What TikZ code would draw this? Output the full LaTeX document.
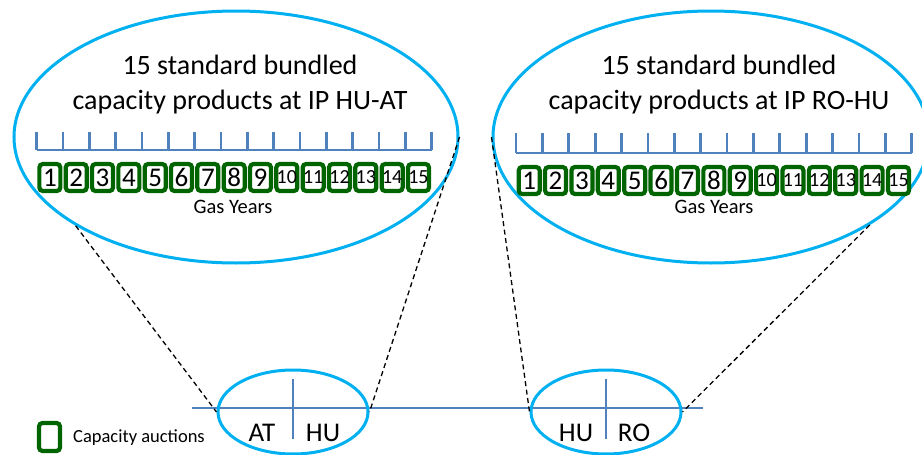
\documentclass[tikz,border=0pt]{standalone}
\usepackage{fontspec}
\setmainfont{Carlito}
\usetikzlibrary{shapes.geometric}
\definecolor{ellblue}{HTML}{00B0F0}
\definecolor{tlblue}{HTML}{4F81BD}
\definecolor{boxgreen}{RGB}{0,100,0}
\begin{document}
\begin{tikzpicture}[x=1pt,y=-1pt,
  bigell/.style={ellipse, draw=ellblue, line width=3pt, inner sep=0pt, minimum width=444pt, minimum height=252pt},
  smallell/.style={ellipse, draw=ellblue, line width=3pt, inner sep=0pt, minimum width=150pt, minimum height=84pt},
  tl/.style={draw=tlblue, line width=2.8pt},
  prod/.style={draw=boxgreen, line width=4.2pt, rounded corners=3.5pt, minimum width=21pt, minimum height=27pt, inner sep=0pt, fill=white},
  conn/.style={black, line width=1.3pt, dash pattern=on 5pt off 3.5pt},
  title/.style={font=\fontsize{28}{35}\selectfont, align=center, inner sep=0pt},
  small/.style={font=\fontsize{20.5}{22}\selectfont, inner sep=0pt},
  country/.style={font=\fontsize{27}{30}\selectfont, inner sep=0pt}
]
\useasboundingbox (0,0) rectangle (922,455);

% big ellipses
\node[bigell] (bigL) at (236,137) {};
\node[bigell, minimum width=436pt] (bigR) at (711,137) {};

% titles
\node[title] (tL) at (240,85) {15 standard bundled\\capacity products at IP HU-AT};
\node[title] (tR) at (719,85) {15 standard bundled\\capacity products at IP RO-HU};

% timelines
\coordinate (la) at (36.7,150);
\coordinate (lb) at (431.7,150);
\draw[tl] (la) -- (lb);
\foreach \i in {0,...,15} {
  \draw[tl] ({36.7+26.33*\i},132) -- ({36.7+26.33*\i},150);
}
\coordinate (ra) at (516,153);
\coordinate (rb) at (911.7,153);
\draw[tl] (ra) -- (rb);
\foreach \i in {0,...,15} {
  \draw[tl] ({516+26.38*\i},133) -- ({516+26.38*\i},153);
}

% product boxes
\foreach \i in {1,...,15} {
  \node[prod] (L\i) at ({36.7+26.33*(\i-0.5)},177.5)
    {\ifnum\i<10 \fontsize{27}{27}\selectfont\else\fontsize{20}{20}\selectfont\fi\i};
  \node[prod] (R\i) at ({516+26.38*(\i-0.5)},180.5)
    {\ifnum\i<10 \fontsize{27}{27}\selectfont\else\fontsize{20}{20}\selectfont\fi\i};
}

\node[small] (gyL) at (233,207) {Gas Years};
\node[small] (gyR) at (714,207) {Gas Years};

% bottom network line
\coordinate (h1) at (192,408);
\coordinate (h2) at (703,408);
\draw[tl] (h1) -- (h2);

% small ellipses
\node[smallell] (sL) at (293,412) {};
\node[smallell] (sR) at (606,412) {};
\draw[tl] (293,379) -- (293,439);
\draw[tl] (606,379) -- (606,439);
\node[country] (at) at (262,433) {AT};
\node[country] (hu1) at (323,433) {HU};
\node[country] (hu2) at (576,433) {HU};
\node[country] (ro) at (634,433) {RO};

% dashed connectors
\draw[conn] (bigL.209.7) -- (sL.west);
\draw[conn] (bigL.0) -- (sL.east);
\draw[conn] (bigR.180) -- (sR.west);
\draw[conn] (bigR.-29.2) -- (sR.east);

% legend
\node[prod, minimum height=28pt] (leg) at (49.5,437) {};
\node[anchor=west, inner sep=0pt, font=\fontsize{18.5}{20}\selectfont] (legt) at (73,438) {Capacity auctions};
\end{tikzpicture}
\end{document}
